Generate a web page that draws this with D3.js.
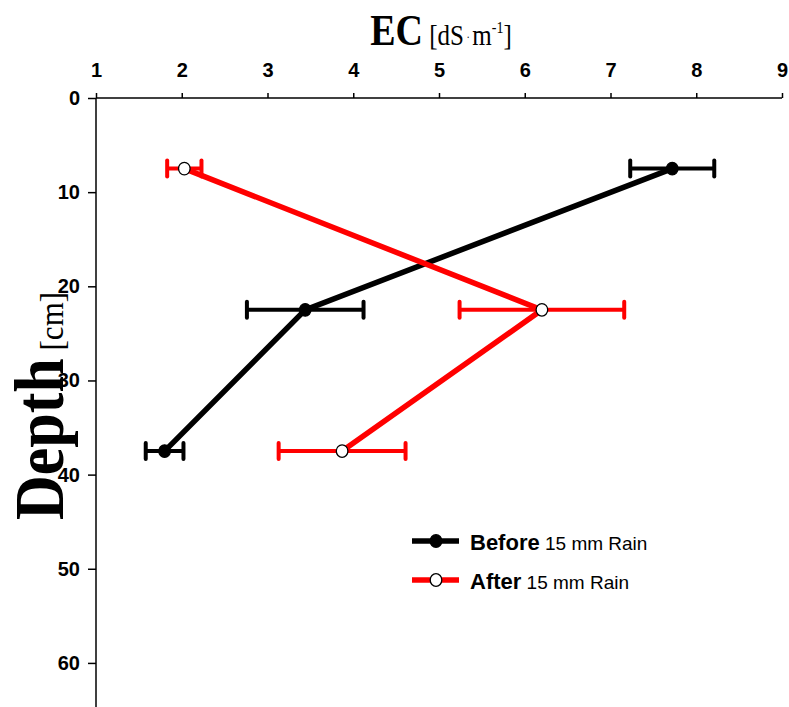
<!DOCTYPE html>
<html>
<head>
<meta charset="utf-8">
<script src="https://d3js.org/d3.v7.min.js"></script>
<style>
  body { margin: 0; background: #fff; }
  .tick text { font-family: "Liberation Sans", Arial, sans-serif; font-weight: bold; font-size: 20px; fill: #000; }
  .axis path, .axis line { stroke: #000; stroke-width: 1.5px; }
</style>
</head>
<body>
<script>
// data
const depths = [7.5, 22.5, 37.5];
const beforeEC = [7.72, 3.44, 1.80];
const beforeErr = [0.49, 0.68, 0.22];
const afterEC = [2.03, 6.20, 3.87];
const afterErr = [0.20, 0.96, 0.74];
const xTicks = [1, 2, 3, 4, 5, 6, 7, 8, 9];
const yTicks = [0, 10, 20, 30, 40, 50, 60];

const width = 789, height = 707;
const svg = d3.select('body').append('svg').attr('width', width).attr('height', height);

const x = d3.scaleLinear().domain([1, 9]).range([96, 782]);
const y = d3.scaleLinear().domain([0, 65]).range([98, 710]);

// axes
svg.append('g')
  .attr('class', 'axis')
  .attr('transform', `translate(0,${y(0)})`)
  .call(d3.axisTop(x).tickValues(xTicks).tickSize(5).tickPadding(16).tickSizeOuter(0))
  .call(g => g.select('.domain').attr('d', `M${x(1)},0H${x(9)}`));

svg.append('g')
  .attr('class', 'axis')
  .attr('transform', `translate(${x(1)},0)`)
  .call(d3.axisLeft(y).tickValues(yTicks).tickSize(8).tickPadding(8).tickSizeOuter(0))
  .call(g => g.select('.domain').attr('d', `M0,${y(0)}V${height}`));

const series = [
  {name: 'Before', ec: beforeEC, err: beforeErr, color: '#000', fill: '#000'},
  {name: 'After', ec: afterEC, err: afterErr, color: '#ff0000', fill: '#fff'}
];

const line = d3.line().x(d => x(d[0])).y(d => y(d[1]));

series.forEach(s => {
  const pts = s.ec.map((v, i) => [v, depths[i], s.err[i]]);
  const g = svg.append('g');
  // error bars
  pts.forEach(p => {
    g.append('line')
      .attr('x1', x(p[0] - p[2])).attr('x2', x(p[0] + p[2]))
      .attr('y1', y(p[1])).attr('y2', y(p[1]))
      .attr('stroke', s.color).attr('stroke-width', 4);
    [p[0] - p[2], p[0] + p[2]].forEach(e => {
      g.append('line')
        .attr('x1', x(e)).attr('x2', x(e))
        .attr('y1', y(p[1]) - 8).attr('y2', y(p[1]) + 8)
        .attr('stroke', s.color).attr('stroke-width', 4).attr('stroke-linecap', 'round');
    });
  });
  g.append('path')
    .datum(pts)
    .attr('d', line)
    .attr('fill', 'none')
    .attr('stroke', s.color)
    .attr('stroke-width', 5.5);
  g.selectAll('ellipse')
    .data(pts)
    .join('ellipse')
    .attr('cx', d => x(d[0])).attr('cy', d => y(d[1]))
    .attr('rx', 5.8).attr('ry', 6.3)
    .attr('fill', s.fill)
    .attr('stroke', '#000').attr('stroke-width', 1.3);
});

// legend
const legend = svg.append('g');
series.forEach((s, i) => {
  const ly = 541 + i * 39;
  legend.append('line')
    .attr('x1', 412).attr('x2', 459).attr('y1', ly).attr('y2', ly)
    .attr('stroke', s.color).attr('stroke-width', 5.5);
  legend.append('ellipse')
    .attr('cx', 436).attr('cy', ly).attr('rx', 5.8).attr('ry', 6.3)
    .attr('fill', s.fill).attr('stroke', '#000').attr('stroke-width', 1.3);
  const t = legend.append('text')
    .attr('x', 470).attr('y', ly + 9)
    .attr('font-family', '"Liberation Sans", Arial, sans-serif');
  t.append('tspan').attr('font-weight', 'bold').attr('font-size', 22).text(s.name);
  t.append('tspan').attr('font-size', 19).text(' 15 mm Rain');
});

// x title
const xt = svg.append('text')
  .attr('transform', 'translate(441,45) scale(1,1.18)')
  .attr('text-anchor', 'middle')
  .attr('font-family', '"Liberation Serif", "Times New Roman", serif');
xt.append('tspan').attr('font-weight', 'bold').attr('font-size', 38).text('EC');
xt.append('tspan').attr('font-size', 25).text(' [dS');
xt.append('tspan').attr('font-size', 10).attr('dy', -3).text(' · ');
xt.append('tspan').attr('font-size', 25).attr('dy', 3).text('m');
xt.append('tspan').attr('font-size', 14).attr('dy', -10).text('-1');
xt.append('tspan').attr('font-size', 25).attr('dy', 10).text(']');

// y title
const yt = svg.append('text')
  .attr('transform', 'translate(63,406) rotate(-90) scale(1,1.12)')
  .attr('text-anchor', 'middle')
  .attr('font-family', '"Liberation Serif", "Times New Roman", serif');
yt.append('tspan').attr('font-weight', 'bold').attr('font-size', 62).text('Depth');
yt.append('tspan').attr('font-size', 31).text(' [cm]');
</script>
</body>
</html>
